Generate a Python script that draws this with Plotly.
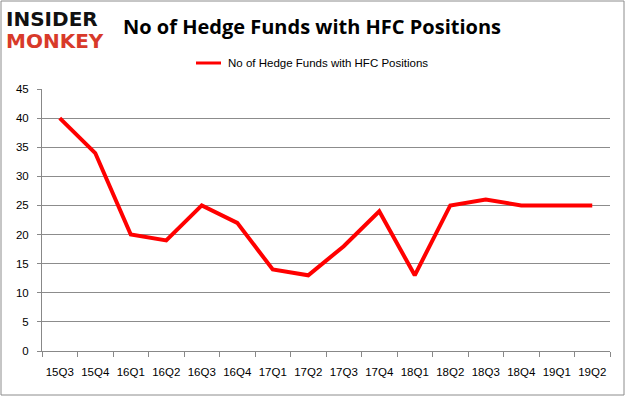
import plotly.graph_objects as go

quarters = ["15Q3", "15Q4", "16Q1", "16Q2", "16Q3", "16Q4", "17Q1", "17Q2",
            "17Q3", "17Q4", "18Q1", "18Q2", "18Q3", "18Q4", "19Q1", "19Q2"]
funds = [40, 34, 20, 19, 25, 22, 14, 13, 18, 24, 13, 25, 26, 25, 25, 25]
series_name = "No of Hedge Funds with HFC Positions"
y_ticks = [0, 5, 10, 15, 20, 25, 30, 35, 40, 45]

W, H = 626, 397
L, R, T, B = 42, 16, 89, 46
PW, PH = W - L - R, H - T - B


def px_x(x):
    return (x - L) / PW


def px_y(y):
    return (H - B - y) / PH


fig = go.Figure()
fig.add_trace(go.Scatter(
    x=quarters, y=funds, mode="lines", name=series_name,
    line=dict(color="#ff0000", width=4), showlegend=False,
))

fig.update_layout(
    width=W, height=H,
    margin=dict(l=L, r=R, t=T, b=B, autoexpand=False),
    paper_bgcolor="white", plot_bgcolor="white",
    font=dict(family="Liberation Sans, Arial, sans-serif", size=11, color="#000"),
    showlegend=False,
    xaxis=dict(
        type="category", tickson="boundaries", ticks="outside", ticklen=5,
        tickcolor="#888", showgrid=False, showline=True, linecolor="#888",
        linewidth=1, range=[-0.5, len(quarters) - 0.5], tickangle=0,
        tickfont=dict(size=11.5), automargin=False, ticklabelstandoff=10,
    ),
    yaxis=dict(
        range=[0, 45], tickvals=y_ticks, showgrid=True, gridcolor="#8c8c8c",
        gridwidth=1, showline=True, linecolor="#888", linewidth=1,
        ticks="outside", ticklen=4, tickcolor="#888", zeroline=False,
        tickfont=dict(size=11.5), automargin=False, ticklabelstandoff=6,
    ),
    shapes=[
        dict(type="rect", xref="paper", yref="paper",
             x0=px_x(1), x1=px_x(624), y0=px_y(395), y1=px_y(1),
             line=dict(color="#8c8c8c", width=1)),
        dict(type="line", xref="paper", yref="paper",
             x0=px_x(196), x1=px_x(221), y0=px_y(63), y1=px_y(63),
             line=dict(color="#ff0000", width=3)),
    ],
    annotations=[
        dict(text=series_name, xref="paper", yref="paper",
             x=px_x(226), y=px_y(63), xanchor="left", yanchor="middle",
             showarrow=False, font=dict(size=11.5)),
        dict(text="<b>No of Hedge Funds with HFC Positions</b>", xref="paper", yref="paper",
             x=px_x(312), y=px_y(27), xanchor="center", yanchor="middle", showarrow=False,
             font=dict(size=20, family="Open Sans, sans-serif", color="#000")),
        dict(text="<b>INSIDER</b>", xref="paper", yref="paper",
             x=px_x(4), y=px_y(19), xanchor="left", yanchor="middle", showarrow=False,
             font=dict(size=20, family="DejaVu Sans, sans-serif", color="#111")),
        dict(text="<b>MONKEY</b>", xref="paper", yref="paper",
             x=px_x(4), y=px_y(41), xanchor="left", yanchor="middle", showarrow=False,
             font=dict(size=20, family="DejaVu Sans, sans-serif", color="#d83a2a")),
    ],
)

fig.write_html(
    "out.html",
    config={"displayModeBar": False},
    post_script="document.body.style.margin='0';document.body.style.overflow='hidden';",
)
